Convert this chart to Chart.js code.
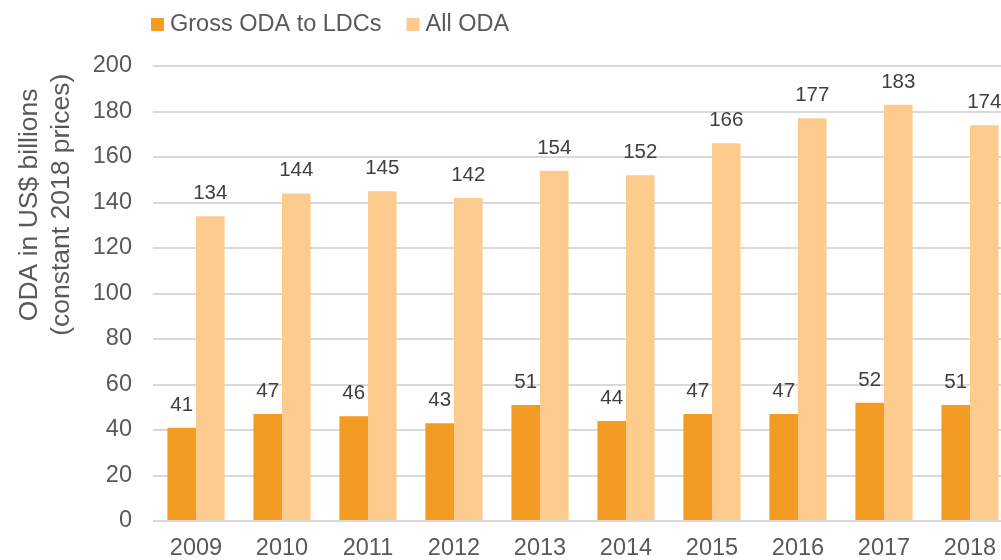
<!DOCTYPE html>
<html>
<head>
<meta charset="utf-8">
<script src="https://cdn.jsdelivr.net/npm/chart.js@4"></script>
<style>
    body { margin: 0; overflow: hidden; background: #fff; }
</style>
</head>
<body>
<canvas id="oda-chart" width="1030" height="560"></canvas>
<script>
var YEARS = ['2009', '2010', '2011', '2012', '2013', '2014', '2015', '2016', '2017', '2018'];
var LDC_ODA = [41, 47, 46, 43, 51, 44, 47, 47, 52, 51];
var ALL_ODA = [134, 144, 145, 142, 154, 152, 166, 177, 183, 174];
var Y_TICKS = [0, 20, 40, 60, 80, 100, 120, 140, 160, 180, 200];
var Y_TITLE = ['ODA in US$ billions', '(constant 2018 prices)'];

var FONT = "Arial, 'Liberation Sans', sans-serif";
var TEXT_GREY = '#595959';

// value labels above each bar
var barLabels = {
    id: 'barLabels',
    afterDatasetsDraw: function(chart) {
        var ctx = chart.ctx;
        ctx.save();
        ctx.font = '20.5px ' + FONT;
        ctx.fillStyle = '#404040';
        ctx.textAlign = 'center';
        ctx.textBaseline = 'alphabetic';
        chart.data.datasets.forEach(function(ds, i) {
            chart.getDatasetMeta(i).data.forEach(function(bar, j) {
                ctx.fillText(ds.data[j], bar.x, bar.y - 17);
            });
        });
        ctx.restore();
    }
};

// legend + rotated axis title, placed like the original
var decorations = {
    id: 'decorations',
    afterDraw: function(chart) {
        var ctx = chart.ctx;
        var area = chart.chartArea;
        ctx.save();

        // legend
        ctx.font = '23.5px ' + FONT;
        ctx.textBaseline = 'middle';
        ctx.textAlign = 'left';
        var x = area.left - 2;
        var y = 25;
        chart.data.datasets.forEach(function(ds) {
            ctx.fillStyle = ds.backgroundColor;
            ctx.fillRect(x, y - 7, 13, 13);
            ctx.fillStyle = TEXT_GREY;
            ctx.fillText(ds.label, x + 19, y);
            x += 19 + ctx.measureText(ds.label).width + 25;
        });

        // y axis title
        ctx.font = '26.5px ' + FONT;
        ctx.textAlign = 'center';
        ctx.fillStyle = TEXT_GREY;
        ctx.translate(30, area.top + (area.bottom - area.top) * 0.305);
        ctx.rotate(-Math.PI / 2);
        Y_TITLE.forEach(function(line, i) {
            ctx.fillText(line, 0, i * 32);
        });
        ctx.restore();
    }
};

var chart = new Chart(document.getElementById('oda-chart'), {
    type: 'bar',
    data: {
        labels: YEARS,
        datasets: [{
            label: 'Gross ODA to LDCs',
            data: LDC_ODA,
            backgroundColor: '#F39B23',
            categoryPercentage: 0.665,
            barPercentage: 1.0
        }, {
            label: 'All ODA',
            data: ALL_ODA,
            backgroundColor: '#FDCB8D',
            categoryPercentage: 0.665,
            barPercentage: 1.0
        }]
    },
    options: {
        responsive: false,
        animation: false,
        layout: { padding: { top: 66, right: 17, left: 0, bottom: 0 } },
        plugins: {
            legend: { display: false },
            tooltip: { enabled: false }
        },
        scales: {
            x: {
                afterFit: function(scale) {
                    scale.height = 39;
                },
                grid: { display: false },
                border: { display: false },
                ticks: {
                    color: TEXT_GREY,
                    padding: 5,
                    font: { family: FONT, size: 23.5 }
                }
            },
            y: {
                min: 0,
                max: 200,
                afterBuildTicks: function(scale) {
                    scale.ticks = Y_TICKS.map(function(v) { return { value: v }; });
                },
                afterFit: function(scale) {
                    scale.width = 153;
                },
                grid: { color: '#D9D9D9', lineWidth: 2, drawTicks: false },
                border: { display: false },
                ticks: {
                    color: TEXT_GREY,
                    padding: 21,
                    font: { family: FONT, size: 23.5 }
                }
            }
        }
    },
    plugins: [barLabels, decorations]
});
</script>
</body>
</html>
